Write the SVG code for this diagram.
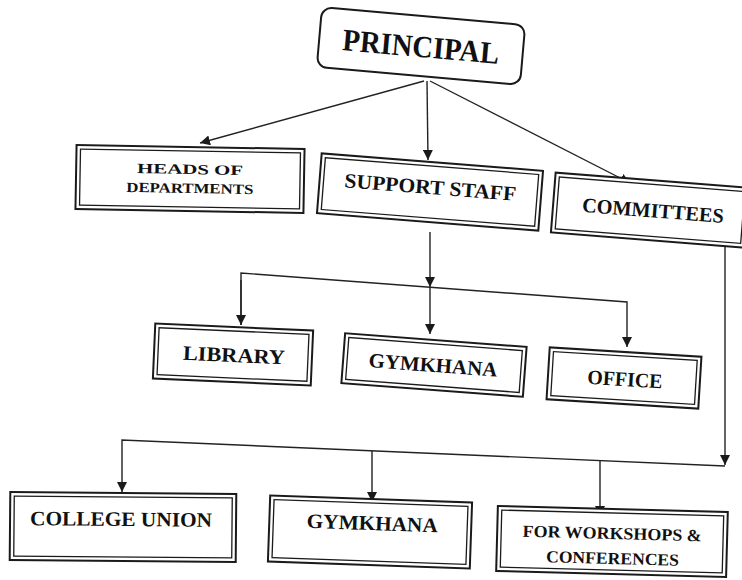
<svg xmlns="http://www.w3.org/2000/svg" width="742" height="580" viewBox="0 0 742 580">
<defs>
<marker id="arr" viewBox="0 0 10 10" refX="10" refY="5" markerWidth="10" markerHeight="10" markerUnits="userSpaceOnUse" orient="auto">
<path d="M0,0 L10,5 L0,10 Z" fill="#1a1a1a"/>
</marker>
</defs>
<style>
.o{fill:#fff;stroke:#1a1a1a;stroke-width:2}
.i{fill:none;stroke:#1a1a1a;stroke-width:1.3}
.t{font-family:"Liberation Serif","Times New Roman",serif;font-weight:bold;fill:#111;text-anchor:middle}
.c{fill:none;stroke:#222;stroke-width:1.4}
</style>
<rect width="742" height="580" fill="#fff"/>
<g id="connectors">
<line class="c" x1="424" y1="81" x2="200" y2="143" marker-end="url(#arr)"/>
<line class="c" x1="427" y1="81" x2="428" y2="160" marker-end="url(#arr)"/>
<line class="c" x1="430" y1="81" x2="630" y2="183" marker-end="url(#arr)"/>
<line class="c" x1="430" y1="232" x2="430" y2="287" marker-end="url(#arr)"/>
<polyline class="c" points="241,325 241,273 627,302 627,347" marker-end="url(#arr)"/>
<line class="c" x1="241" y1="280" x2="241" y2="325" marker-end="url(#arr)"/>
<line class="c" x1="430" y1="287" x2="430" y2="334" marker-end="url(#arr)"/>
<line class="c" x1="725" y1="247" x2="725" y2="465" marker-end="url(#arr)"/>
<polyline class="c" points="725,466 122,440 122,492" marker-end="url(#arr)"/>
<line class="c" x1="372" y1="451" x2="372" y2="502" marker-end="url(#arr)"/>
<line class="c" x1="600" y1="461" x2="600" y2="516" marker-end="url(#arr)"/>
</g>
<g id="principal" transform="rotate(5 421 46)">
<rect class="o" x="319" y="16" width="204" height="60" rx="10"/>
<text class="t" x="421" y="57" font-size="31" textLength="157" lengthAdjust="spacingAndGlyphs">PRINCIPAL</text>
</g>
<g id="heads" transform="rotate(1 190 179)">
<rect class="o" x="76" y="147" width="228" height="64"/>
<rect class="i" x="80" y="151" width="220" height="56"/>
<text class="t" x="190" y="174" font-size="14" textLength="106" lengthAdjust="spacingAndGlyphs">HEADS OF</text>
<text class="t" x="190" y="193" font-size="14" textLength="127" lengthAdjust="spacingAndGlyphs">DEPARTMENTS</text>
</g>
<g id="support" transform="rotate(4.5 430 192)">
<rect class="o" x="319" y="162" width="222" height="60"/>
<rect class="i" x="323" y="166" width="214" height="52"/>
<text class="t" x="430" y="194" font-size="20.5" textLength="172" lengthAdjust="spacingAndGlyphs">SUPPORT STAFF</text>
</g>
<g id="committees" transform="rotate(4.5 648 210)">
<rect class="o" x="553" y="180" width="194" height="60"/>
<rect class="i" x="557" y="184" width="186" height="52"/>
<text class="t" x="653" y="217" font-size="20.5" textLength="142" lengthAdjust="spacingAndGlyphs">COMMITTEES</text>
</g>
<g id="library" transform="rotate(2.5 233 355)">
<rect class="o" x="154" y="327" width="158" height="55"/>
<rect class="i" x="158" y="331" width="150" height="47"/>
<text class="t" x="234" y="362" font-size="20.5" textLength="102" lengthAdjust="spacingAndGlyphs">LIBRARY</text>
</g>
<g id="gymkhana1" transform="rotate(4.3 434 365)">
<rect class="o" x="343" y="340" width="182" height="50"/>
<rect class="i" x="347" y="344" width="174" height="42"/>
<text class="t" x="433" y="372" font-size="20.5" textLength="129" lengthAdjust="spacingAndGlyphs">GYMKHANA</text>
</g>
<g id="office" transform="rotate(3.5 624 378)">
<rect class="o" x="548" y="352" width="152" height="52"/>
<rect class="i" x="552" y="356" width="144" height="44"/>
<text class="t" x="625" y="386" font-size="20.5" textLength="75" lengthAdjust="spacingAndGlyphs">OFFICE</text>
</g>
<g id="collegeunion" transform="rotate(0.5 123 527)">
<rect class="o" x="10" y="493" width="226" height="68"/>
<rect class="i" x="14" y="497" width="218" height="60"/>
<text class="t" x="121" y="526" font-size="20.5" textLength="182" lengthAdjust="spacingAndGlyphs">COLLEGE UNION</text>
</g>
<g id="gymkhana2" transform="rotate(2 370 532)">
<rect class="o" x="269" y="499" width="202" height="66"/>
<rect class="i" x="273" y="503" width="194" height="58"/>
<text class="t" x="372" y="530" font-size="20.5" textLength="131" lengthAdjust="spacingAndGlyphs">GYMKHANA</text>
</g>
<g id="workshops" transform="rotate(1.5 612 541)">
<rect class="o" x="497" y="509" width="230" height="65"/>
<rect class="i" x="501" y="513" width="222" height="57"/>
<text class="t" x="612" y="539" font-size="17" textLength="179" lengthAdjust="spacingAndGlyphs">FOR WORKSHOPS &amp;</text>
<text class="t" x="613" y="564" font-size="17" textLength="133" lengthAdjust="spacingAndGlyphs">CONFERENCES</text>
</g>
</svg>
